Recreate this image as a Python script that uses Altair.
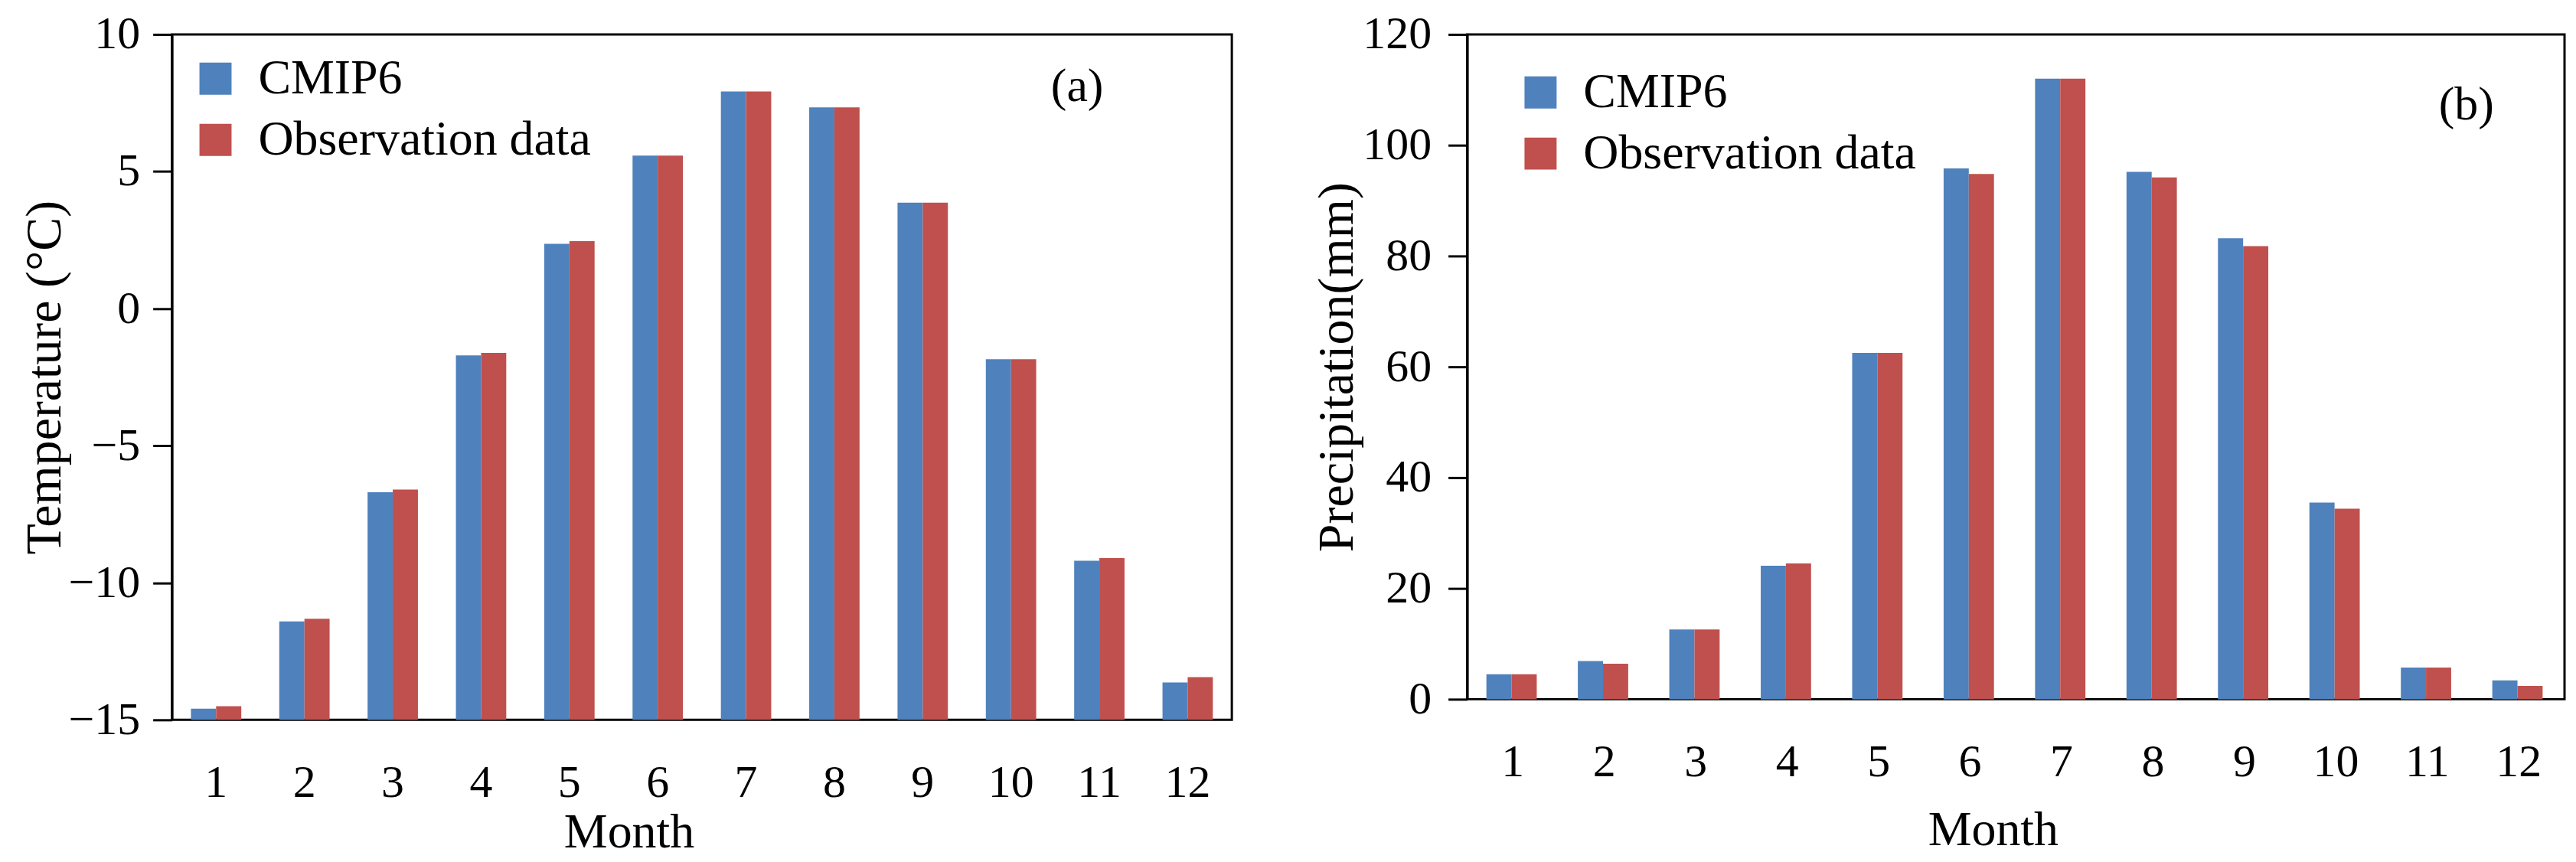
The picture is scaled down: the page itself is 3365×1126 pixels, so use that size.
import altair as alt
import pandas as pd

months = [str(m) for m in range(1, 13)]
series = ["CMIP6", "Observation data"]
temp_cmip6 = [-14.59, -11.41, -6.70, -1.71, 2.36, 5.58, 7.92, 7.34, 3.86, -1.85, -9.20, -13.64]
temp_obs = [-14.50, -11.31, -6.60, -1.62, 2.46, 5.58, 7.92, 7.34, 3.86, -1.85, -9.10, -13.44]
prec_cmip6 = [4.5, 6.9, 12.6, 24.1, 62.5, 95.8, 112.0, 95.2, 83.2, 35.5, 5.7, 3.4]
prec_obs = [4.5, 6.4, 12.6, 24.5, 62.5, 94.8, 112.0, 94.2, 81.8, 34.4, 5.7, 2.4]
colors = ["#4F81BD", "#C0504D"]
temp_ticks = [-15, -10, -5, 0, 5, 10]
prec_ticks = [0, 20, 40, 60, 80, 100, 120]

FONT = "Liberation Serif"


def long(c, o):
    rows = []
    for m, a, b in zip(months, c, o):
        rows.append({"Month": m, "Series": series[0], "Value": a})
        rows.append({"Month": m, "Series": series[1], "Value": b})
    return pd.DataFrame(rows)


def panel(df, width, height, ydomain, yticks, ytitle, ytitle_off, ylabel_pad,
          xlabel_pad, xtitle_x, xtitle_y, pinner, legend_x, legend_y,
          tag, tag_y, tag_dx):
    yscale = alt.Scale(domain=ydomain, nice=False, zero=False)
    xscale = alt.Scale(paddingInner=pinner, paddingOuter=pinner / 2)
    xaxis = alt.Axis(
        title="Month", labelAngle=0, ticks=False, tickSize=0, domain=False,
        labelFont=FONT, labelFontSize=60, labelColor="black",
        labelPadding=xlabel_pad, titleFont=FONT, titleFontSize=64,
        titleFontWeight="normal", titleColor="black", titleX=xtitle_x,
        titleY=xtitle_y, titleBaseline="alphabetic", titleAlign="center",
        grid=False,
    )
    yaxis = alt.Axis(
        values=yticks, title=ytitle, format="d", grid=False,
        titleFont=FONT, titleFontSize=66, titleFontWeight="normal",
        titleColor="black", titleAngle=270, titleX=-ytitle_off,
        titleY=height / 2, titleBaseline="alphabetic", titleAlign="center",
        labelFont=FONT, labelFontSize=60, labelColor="black",
        labelPadding=ylabel_pad, tickSize=25, tickWidth=3,
        tickColor="black", domainColor="black", domainWidth=3,
    )
    bars = alt.Chart(df).mark_bar().encode(
        x=alt.X("Month:N", sort=months, scale=xscale, axis=xaxis),
        xOffset=alt.XOffset("Series:N", sort=series),
        y=alt.Y("Value:Q", scale=yscale, axis=yaxis),
        y2=alt.datum(ydomain[0]),
        color=alt.Color(
            "Series:N", sort=series,
            scale=alt.Scale(domain=series, range=colors),
            legend=alt.Legend(
                orient="none", legendX=legend_x, legendY=legend_y, title=None,
                symbolType="square", symbolSize=1764, symbolStrokeWidth=0,
                symbolOpacity=1, labelFont=FONT, labelFontSize=64,
                labelColor="black", labelOffset=24, rowPadding=16, padding=0,
                labelLimit=0,
            ),
        ),
    )
    tagdf = pd.DataFrame({"Month": ["11"], "label": [tag], "Value": [tag_y]})
    text = alt.Chart(tagdf).mark_text(
        font=FONT, fontSize=62, dx=tag_dx, color="black", baseline="middle"
    ).encode(
        x=alt.X("Month:N", sort=months, scale=xscale, axis=xaxis),
        y=alt.Y("Value:Q", scale=yscale, axis=yaxis),
        text="label:N",
    )
    return alt.layer(bars, text).properties(width=width, height=height)


pa = panel(long(temp_cmip6, temp_obs), 1387, 897, [-15, 10], temp_ticks,
           "Temperature (°C)", 146, 17, 53, 598, 166, 0.43, 25, 26,
           "(a)", 8.1, -29)
pb = panel(long(prec_cmip6, prec_obs), 1436, 870, [0, 120], prec_ticks,
           "Precipitation(mm)", 150, 22, 53, 688, 190, 0.42, 64, 44,
           "(b)", 107.3, 51)

chart = alt.hconcat(pa, pb, spacing=101).resolve_scale(
    color="independent", y="independent", x="independent"
).properties(
    padding={"left": 16, "top": 4, "right": 5, "bottom": 0},
    background="white",
).configure_view(stroke="black", strokeWidth=3)

chart.save("out.html", embed_options={"renderer": "svg", "actions": False})
